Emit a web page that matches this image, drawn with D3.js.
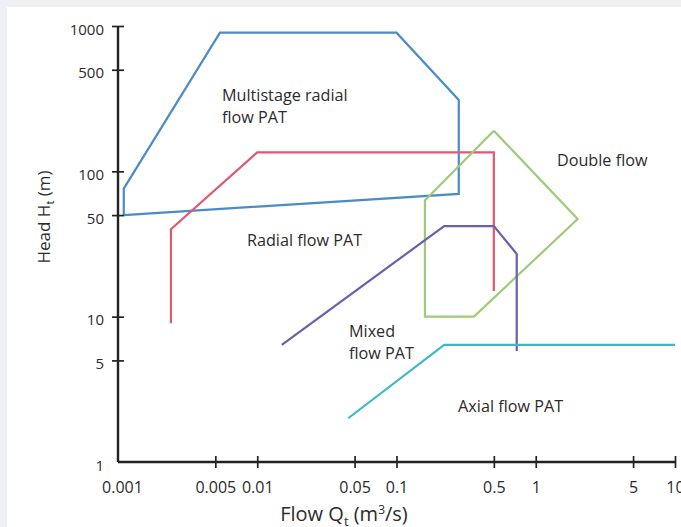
<!DOCTYPE html>
<html>
<head>
<meta charset="utf-8">
<script src="https://cdn.jsdelivr.net/npm/d3@7"></script>
<style>
  html, body { margin: 0; padding: 0; background: #eef0f3; }
  svg { display: block; }
  text { font-family: "Open Sans", "Noto Sans", sans-serif; }
</style>
</head>
<body>
<svg id="chart" width="681" height="527"></svg>
<script>
// ---- data (Q in m^3/s, H in m) ----
const xTickValues = [0.001, 0.005, 0.01, 0.05, 0.1, 0.5, 1, 5, 10];
const yTickValues = [1, 5, 10, 50, 100, 500, 1000];

const multistageQ = [0.0011, 0.0011, 0.0054, 0.1, 0.28, 0.28, 0.0011];
const multistageH = [50, 76, 900, 900, 310, 70, 50];

const radialQ = [0.0024, 0.0024, 0.01, 0.5, 0.5];
const radialH = [9, 40, 135, 135, 15];

const doubleQ = [0.5, 2.0, 0.36, 0.16, 0.16, 0.5];
const doubleH = [190, 47, 10, 10, 63, 190];

const mixedQ = [0.015, 0.22, 0.5, 0.73, 0.73];
const mixedH = [6.4, 42, 42, 27, 5.8];

const axialQ = [0.045, 0.22, 10];
const axialH = [2, 6.4, 6.4];

const seriesNames = ["Multistage radial flow PAT", "Radial flow PAT", "Double flow", "Mixed flow PAT", "Axial flow PAT"];
const seriesColors = ["#4a8bc9", "#de5a6f", "#9dcb78", "#6a5fad", "#3db9c9"];

// annotation anchors (data coordinates) and text lines
const labelQ = [0.00558, 0.00844, 1.42, 0.0456, 0.277];
const labelH = [303, 30.5, 108, 7.2, 2.2];
const labelLines = [["Multistage radial", "flow PAT"], ["Radial flow PAT"], ["Double flow"], ["Mixed", "flow PAT"], ["Axial flow PAT"]];

// ---- drawing ----
const svg = d3.select("#chart");
svg.append("rect").attr("x", 7).attr("y", 7).attr("width", 674).attr("height", 520).attr("fill", "#ffffff");

const x = d3.scaleLog().domain([0.001, 10]).range([118, 675]);
const y = d3.scaleLog().domain([1, 1000]).range([462, 26]);

const series = [
  [multistageQ, multistageH],
  [radialQ, radialH],
  [doubleQ, doubleH],
  [mixedQ, mixedH],
  [axialQ, axialH]
];

const line = d3.line().x(d => x(d[0])).y(d => y(d[1]));

series.forEach((s, i) => {
  const pts = s[0].map((q, j) => [q, s[1][j]]);
  svg.append("path")
    .attr("d", line(pts))
    .attr("fill", "none")
    .attr("stroke", seriesColors[i])
    .attr("stroke-width", 2.2)
    .attr("stroke-linejoin", "miter");
});

// axes
const axisColor = "#222";
const textColor = "#2b2b2b";
const xAxis = d3.axisBottom(x).tickValues(xTickValues).tickFormat(d => String(d)).tickSize(6).tickPadding(14);
const gx = svg.append("g").attr("transform", `translate(0,${y(1)})`).call(xAxis);
gx.select(".domain").attr("stroke", axisColor).attr("stroke-width", 2.4).attr("d", `M${x(0.001)},0H${x(10)}`);
gx.selectAll(".tick line").attr("stroke", axisColor).attr("stroke-width", 1.7).attr("y1", -6).attr("y2", 6)
  .style("display", d => d === 0.001 ? "none" : null);
gx.selectAll(".tick text").attr("fill", textColor).style("font-size", "16px").attr("dx", d => d === 0.001 ? 4 : 0);

const yAxis = d3.axisLeft(y).tickValues(yTickValues).tickFormat(d => String(d)).tickSize(6).tickPadding(8);
const gy = svg.append("g").attr("transform", `translate(${x(0.001)},0)`).call(yAxis);
gy.select(".domain").attr("stroke", axisColor).attr("stroke-width", 2.4).attr("d", `M0,${y(1)}V${y(1000)}`);
gy.selectAll(".tick line").attr("stroke", axisColor).attr("stroke-width", 1.7).attr("x1", 6).attr("x2", -6)
  .style("display", d => d === 1 ? "none" : null);
gy.selectAll(".tick text").attr("fill", textColor).style("font-size", "15px").attr("dy", "0.55em");

// axis titles
const xt = svg.append("text").attr("x", 344).attr("y", 521).attr("text-anchor", "middle")
  .attr("fill", textColor).style("font-size", "20px");
xt.append("tspan").text("Flow Q");
xt.append("tspan").text("t").style("font-size", "13px").attr("dy", 5);
xt.append("tspan").text(" (m").attr("dy", -5);
xt.append("tspan").text("3").style("font-size", "12px").attr("dy", -7);
xt.append("tspan").text("/s)").attr("dy", 7);

const yt = svg.append("text").attr("transform", "translate(50,217) rotate(-90)").attr("text-anchor", "middle")
  .attr("fill", textColor).style("font-size", "17px");
yt.append("tspan").text("Head H");
yt.append("tspan").text("t").style("font-size", "11px").attr("dy", 4);
yt.append("tspan").text(" (m)").attr("dy", -4);

// annotations
labelLines.forEach((lines, i) => {
  const t = svg.append("text").attr("x", x(labelQ[i])).attr("y", y(labelH[i]))
    .attr("fill", textColor).style("font-size", "16.2px");
  lines.forEach((ln, k) => {
    t.append("tspan").attr("x", x(labelQ[i])).attr("dy", k === 0 ? 0 : 22).text(ln);
  });
});
</script>
</body>
</html>
